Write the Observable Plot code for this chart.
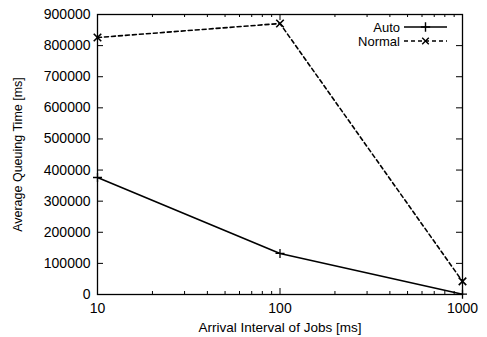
<!DOCTYPE html>
<html><head><meta charset="utf-8">
<script src="https://cdn.jsdelivr.net/npm/d3@7"></script>
<script src="https://cdn.jsdelivr.net/npm/@observablehq/plot@0.6"></script>
<style>body{margin:0;background:#fff} #chart svg{font-family:"Liberation Sans",Arial,sans-serif}</style>
</head><body><div id="chart"></div>
<script>
const intervals = [10, 100, 1000];
const autoTimes = [376000, 132000, 1000];
const normalTimes = [826000, 871000, 42000];
const seriesNames = ["Auto", "Normal"];
const yTicks = [0, 100000, 200000, 300000, 400000, 500000, 600000, 700000, 800000, 900000];
const xMajorTicks = [10, 100, 1000];
const xMinorTicks = [20, 30, 40, 50, 60, 70, 80, 90, 200, 300, 400, 500, 600, 700, 800, 900];
const xLabel = "Arrival Interval of Jobs [ms]";
const yLabel = "Average Queuing Time [ms]";

const W = 487, H = 337, mL = 97, mR = 25, mT = 14, mB = 43;
const pw = W - mL - mR, ph = H - mT - mB;
const autoData = intervals.map((x, i) => ({x, y: autoTimes[i]}));
const normalData = intervals.map((x, i) => ({x, y: normalTimes[i]}));

const chart = Plot.plot({
  width: W, height: H,
  marginLeft: mL, marginRight: mR, marginTop: mT, marginBottom: mB,
  style: {fontSize: "14px", fontFamily: "'Liberation Sans', Arial, sans-serif", color: "#000", background: "#fff"},
  x: {type: "log", domain: [10, 1000]},
  y: {domain: [0, 900000]},
  marks: [
    Plot.frame({stroke: "#000", strokeWidth: 1.3}),
    Plot.tickY(yTicks, {y: d => d, insetRight: pw - 6, stroke: "#000"}),
    Plot.tickY(yTicks, {y: d => d, insetLeft: pw - 6, stroke: "#000"}),
    Plot.tickX(xMajorTicks, {x: d => d, insetTop: ph - 6, stroke: "#000"}),
    Plot.tickX(xMajorTicks, {x: d => d, insetBottom: ph - 6, stroke: "#000"}),
    Plot.tickX(xMinorTicks, {x: d => d, insetTop: ph - 3, stroke: "#000"}),
    Plot.tickX(xMinorTicks, {x: d => d, insetBottom: ph - 3, stroke: "#000"}),
    Plot.axisY({ticks: yTicks, tickSize: 0, tickPadding: 7, tickFormat: d => String(d), fontSize: 14, label: null}),
    Plot.axisY({ticks: [], tickSize: 0, label: yLabel, labelAnchor: "center", labelOffset: 84, labelArrow: "none", fontSize: 12.5}),
    Plot.axisX({ticks: xMajorTicks, tickSize: 0, tickPadding: 9, tickFormat: d => String(d), fontSize: 14, label: null}),
    Plot.axisX({ticks: [], tickSize: 0, label: xLabel, labelAnchor: "center", labelOffset: 37, labelArrow: "none", fontSize: 13.5}),
    Plot.line(autoData, {x: "x", y: "y", stroke: "#000", strokeWidth: 1.6}),
    Plot.line(normalData, {x: "x", y: "y", stroke: "#000", strokeWidth: 1.6, strokeDasharray: "4,3"}),
    Plot.dot(autoData, {x: "x", y: "y", symbol: "plus", r: 3, stroke: "#000", strokeWidth: 1.3}),
    Plot.dot(normalData, {x: "x", y: "y", symbol: "times", r: 3.5, stroke: "#000", strokeWidth: 1.6})
  ]
});
document.getElementById("chart").appendChild(chart);

// legend
const svg = d3.select(chart);
const lg = svg.append("g").attr("font-size", 13).attr("font-family", "'Liberation Sans', Arial, sans-serif");
const legendItems = [
  {name: seriesNames[0], dash: null, sym: "plus"},
  {name: seriesNames[1], dash: "4,3", sym: "times"}
];
legendItems.forEach((it, i) => {
  const y = 27 + i * 14;
  lg.append("text").attr("x", 400).attr("y", y).attr("dy", "0.35em").attr("text-anchor", "end").text(it.name);
  lg.append("line").attr("x1", 404).attr("x2", 447).attr("y1", y).attr("y2", y)
    .attr("stroke", "#000").attr("stroke-width", 1.6).attr("stroke-dasharray", it.dash);
  const s = it.sym === "plus" ? d3.symbolPlus : d3.symbolTimes;
  lg.append("path").attr("transform", `translate(425.5,${y})`).attr("d", d3.symbol(s, 30)())
    .attr("fill", "none").attr("stroke", "#000").attr("stroke-width", 1.4);
});
</script></body></html>
